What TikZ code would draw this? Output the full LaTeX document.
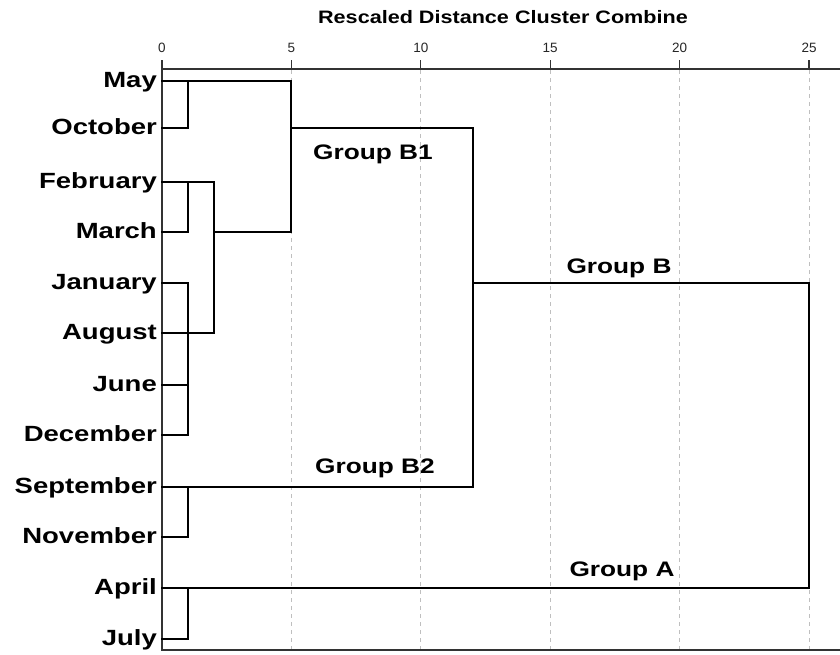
\documentclass[tikz,border=0pt]{standalone}
\usepackage{fontspec}
\setmainfont{Liberation Sans}
\newfontfamily\widefont{Liberation Sans}[FakeStretch=1.25]
\newfontfamily\titlefont{Liberation Sans}[FakeStretch=1.2]
\usepackage{tikz}
\begin{document}
\begin{tikzpicture}
[
x=1pt,y=-1pt,
month/.style={anchor=base east,inner sep=0pt,font=\widefont\bfseries\fontsize{22}{24}\selectfont},
group/.style={anchor=base,inner sep=0pt,font=\widefont\bfseries\fontsize{21}{24}\selectfont},
tick/.style={anchor=base,inner sep=0pt,text=black!85,font=\fontsize{13.5}{15}\selectfont},
link/.style={line width=1.8pt,line cap=rect},
frame/.style={line width=1.3pt,black!80},
grid/.style={line width=0.9pt,black!25,dash pattern=on 4pt off 4pt},
]
\useasboundingbox (0,0) rectangle (840,654);

%Grid, frame and scale
\foreach \v in {5,10,...,25}
  \draw[grid] ({162+25.88*\v},70) -- ({162+25.88*\v},649);
\draw[frame] (840,69) -- (162,69) -- (162,650) -- (840,650);
\foreach \v in {0,5,...,25}{
  \draw[frame] ({162+25.88*\v},60) -- ({162+25.88*\v},69);
  \node[tick] (t\v) at ({162+25.88*\v},52) {\v};
}
\node[anchor=base,inner sep=0pt,font=\titlefont\bfseries\fontsize{18}{20}\selectfont] (title) at (503,23) {Rescaled Distance Cluster Combine};

%Place the leaves
\foreach \m/\t/\y in {may/May/81,oct/October/128,feb/February/182,mar/March/232,jan/January/283,aug/August/333,jun/June/385,dec/December/435,sep/September/487,nov/November/537,apr/April/588,jul/July/639}{
  \coordinate (\m) at (162,\y);
  \node[month] (\m-t) at ([xshift=-5pt,yshift=-6.5pt]\m) {\t};
}
%Columns (distance 1, 2, 5, 12, 25)
\coordinate (k1) at (188,69);
\coordinate (k2) at (214,69);
\coordinate (k5) at (291,69);
\coordinate (k12) at (473,69);
\coordinate (k25) at (809,69);
%Place the merge points
\coordinate (mo) at (may -| k1);
\coordinate (fm) at (feb -| k1);
\coordinate (jadj) at (jan -| k1);
\coordinate (fmj) at (feb -| k2);
\coordinate (b1) at (may -| k5);
\coordinate (b) at (oct -| k12);
\coordinate (sn) at (sep -| k1);
\coordinate (aj) at (apr -| k1);
\coordinate (root) at (jan -| k25);

%Draw the connections
\draw[link] (may) -- (b1);
\draw[link] (oct) -| (mo);
\draw[link] (feb) -- (fmj);
\draw[link] (mar) -| (fm);
\draw[link] (jan) -- (jadj);
\draw[link] (dec) -| (jadj);
\draw[link] (jun) -- (jun -| jadj);
\draw[link] (aug) -| (fmj);
\draw[link] (mar -| fmj) -- (mar -| b1);
\draw[link] (b1) -- (b1 |- mar);
\draw[link] (oct -| b1) -- (b);
\draw[link] (sep) -| (b);
\draw[link] (nov) -| (sn);
\draw[link] (jan -| b) -- (root);
\draw[link] (apr) -| (root);
\draw[link] (jul) -| (aj);

%Group labels
\node[group] (gB1) at (373,159) {Group B1};
\node[group] (gB) at (619,273) {Group B};
\node[group] (gB2) at (375,473) {Group B2};
\node[group] (gA) at (622,576) {Group A};
\end{tikzpicture}
\end{document}
